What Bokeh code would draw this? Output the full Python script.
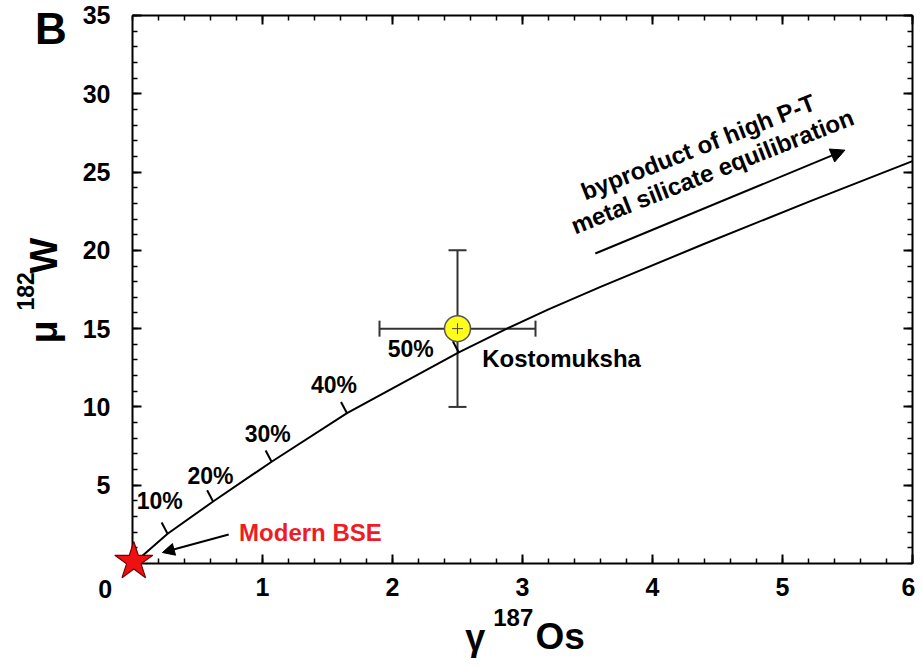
import math
from bokeh.plotting import figure
from bokeh.models import (Range1d, LinearAxis, FixedTicker, Label, Arrow, NormalHead,
                          Whisker, TeeHead, ColumnDataSource, CustomJSTickFormatter)
from bokeh.embed import file_html
from bokeh.resources import INLINE
from bokeh.core.properties import value

# ---------------- data ----------------
curve_x = [0.05, 0.27, 0.62, 1.07, 1.65, 2.51, 2.88, 3.2, 3.6, 4.4, 5.2, 6.0]
curve_y = [0.3, 1.9, 3.96, 6.5, 9.6, 13.48, 15.0, 16.23, 17.67, 20.42, 23.1, 25.7]

pct_labels = ["10%", "20%", "30%", "40%", "50%"]
pct_x = [0.27, 0.62, 1.07, 1.65, 2.51]
pct_y = [1.9, 3.96, 6.5, 9.6, 13.48]

kos_x = [2.5]
kos_y = [15.0]
kos_xerr = [0.6]
kos_yerr = [5.0]

bse_x = [0.01]
bse_y = [0.13]

x_ticks = [1, 2, 3, 4, 5, 6]
y_ticks = [5, 10, 15, 20, 25, 30, 35]

# ---------------- layout constants ----------------
REG = "Liberation Sans"
pct_label_x = [0.21, 0.60, 1.04, 1.55, 2.14]
pct_label_y = [4.0, 5.6, 8.3, 11.4, 13.7]
tick_dx, tick_dy = -0.046, 0.72

W, H = 915, 658
# frame covers the whole canvas; 130 px per x unit, 15.657 px per y unit
p = figure(width=W, height=H,
           x_range=Range1d(-1.0154, 6.0231), y_range=Range1d(-6.0676, 35.958),
           output_backend="svg", toolbar_location=None,
           x_axis_location=None, y_axis_location=None,
           min_border=0, min_border_left=0, min_border_right=0,
           min_border_top=0, min_border_bottom=0)
p.grid.visible = False
p.outline_line_color = None
p.background_fill_color = "white"
p.border_fill_color = "white"

xt = FixedTicker(ticks=x_ticks, minor_ticks=[round(i * 0.2, 2) for i in range(31)])
yt = FixedTicker(ticks=y_ticks, minor_ticks=list(range(36)))
blank = CustomJSTickFormatter(code="return ''")


def make_axis(ticker, loc, bounds, show_labels, standoff):
    ax = LinearAxis(ticker=ticker, fixed_location=loc, bounds=bounds)
    ax.axis_line_width = 2
    ax.axis_line_color = "black"
    ax.major_tick_in = 9
    ax.major_tick_out = 0
    ax.minor_tick_in = 5
    ax.minor_tick_out = 0
    ax.major_tick_line_width = 2
    ax.minor_tick_line_width = 1.5
    ax.major_label_text_font = REG
    ax.major_label_text_font_style = "bold"
    ax.major_label_text_color = "black"
    ax.major_label_text_font_size = "25px"
    ax.major_label_standoff = standoff
    if not show_labels:
        ax.formatter = blank
    ax.axis_label = None
    return ax


p.add_layout(make_axis(xt, 0, (0, 6), True, 15), "below")
p.add_layout(make_axis(yt, 0, (0, 35), True, 22), "left")
p.add_layout(make_axis(xt, 35, (0, 6), False, 0), "above")
p.add_layout(make_axis(yt, 6, (0, 35), False, 0), "right")

# curve
p.line(curve_x, curve_y, line_color="black", line_width=2)

# percentage ticks on the curve
p.segment(x0=pct_x, y0=pct_y, x1=[v + tick_dx for v in pct_x], y1=[v + tick_dy for v in pct_y],
          line_color="black", line_width=2)
p.text(x=pct_label_x, y=pct_label_y, text=pct_labels, text_font=value(REG),
       text_font_style="bold", text_font_size="23px", text_align="center",
       text_baseline="middle", text_color="black")

# Kostomuksha error bars
ks = ColumnDataSource(dict(x=kos_x, y=kos_y,
                           xl=[a - b for a, b in zip(kos_x, kos_xerr)],
                           xu=[a + b for a, b in zip(kos_x, kos_xerr)],
                           yl=[a - b for a, b in zip(kos_y, kos_yerr)],
                           yu=[a + b for a, b in zip(kos_y, kos_yerr)]))
p.add_layout(Whisker(source=ks, base="y", lower="xl", upper="xu", dimension="width",
                     line_color="#333333", line_width=2,
                     lower_head=TeeHead(size=16, line_color="#333333", line_width=2),
                     upper_head=TeeHead(size=16, line_color="#333333", line_width=2)))
p.add_layout(Whisker(source=ks, base="x", lower="yl", upper="yu", dimension="height",
                     line_color="#333333", line_width=2,
                     lower_head=TeeHead(size=18, line_color="#333333", line_width=2),
                     upper_head=TeeHead(size=18, line_color="#333333", line_width=2)))
p.scatter("x", "y", source=ks, size=26, fill_color="#ffff1a", line_color="#555555",
          line_width=1.5, level="overlay")
p.scatter("x", "y", source=ks, marker="cross", size=11, line_color="#444444", line_width=1,
          level="overlay")

# Modern BSE star (drawn above the axes)
p.scatter(bse_x, bse_y, marker="star", size=40, fill_color="#ee1111", line_color="#7a0000",
          line_width=1.2, level="overlay")

# arrows
p.add_layout(Arrow(end=NormalHead(size=12, fill_color="black", line_color="black"),
                   x_start=0.74, y_start=1.85, x_end=0.23, y_end=0.7,
                   line_color="black", line_width=2))
p.add_layout(Arrow(end=NormalHead(size=14, fill_color="black", line_color="black"),
                   x_start=3.56, y_start=19.8, x_end=5.48, y_end=26.4,
                   line_color="black", line_width=2))


def lab(x, y, text, size, align="left", baseline="middle", color="black", angle=0.0, font=REG):
    p.add_layout(Label(x=x, y=y, text=text, text_font=font, text_font_style="bold",
                       text_font_size=size, text_align=align, text_baseline=baseline,
                       text_color=color, angle=angle))


lab(0.82, 1.98, "Modern BSE", "24px", color="#ee1c25")
lab(2.69, 13.1, "Kostomuksha", "24px")
ang = math.radians(21.5)
lab(4.35, 26.6, "byproduct of high P-T", "24px", align="center", angle=ang)
lab(4.46, 25.05, "metal silicate equilibration", "24px", align="center", angle=ang)

# corner zero, panel letter, axis titles
lab(-0.21, -1.6, "0", "25px", align="center")
lab(-0.75, 34.14, "B", "44px")
lab(2.56, -4.72, "γ", "36px")
lab(2.775, -3.45, "187", "24px")
lab(3.1, -4.69, "Os", "37px")
lab(-0.68, 14.05, "μ", "38px", angle=math.pi / 2)
lab(-0.823, 16.16, "182", "23px", angle=math.pi / 2)
lab(-0.68, 18.52, "W", "38px", angle=math.pi / 2)

open("out.html", "w").write(file_html(p, INLINE))
